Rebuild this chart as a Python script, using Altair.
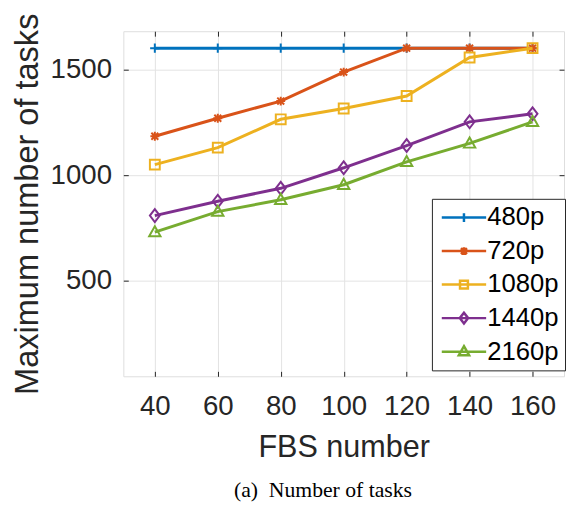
import altair as alt
import pandas as pd

fbs = [40, 60, 80, 100, 120, 140, 160]
series = ["480p", "720p", "1080p", "1440p", "2160p"]
v480 = [1600, 1600, 1600, 1600, 1600, 1600, 1600]
v720 = [1184, 1269, 1350, 1487, 1600, 1600, 1600]
v1080 = [1050, 1130, 1264, 1315, 1374, 1556, 1600]
v1440 = [809, 877, 938, 1035, 1140, 1252, 1290]
v2160 = [731, 828, 884, 955, 1063, 1150, 1252]
y_ticks = [500, 1000, 1500]
colors = ["#0072BD", "#D95319", "#EDB120", "#7E2F8E", "#77AC30"]

marker_paths = [
    "M0,-0.95V0.95M-0.95,0H0.95",
    "M0,-0.9V0.9M-0.9,0H0.9M-0.7,-0.7L0.7,0.7M-0.7,0.7L0.7,-0.7",
    "M-1,-1H1V1H-1Z",
    "M0,-1.3L1,0L0,1.3L-1,0Z",
    "M0,-1.2L1.15,0.85L-1.15,0.85Z",
]
legend_paths = [
    "M-4.5,0H4.5M0,-0.9V0.9",
    "M-4.5,0H4.5M0,-0.8V0.8M-0.6,-0.6L0.6,0.6M-0.6,0.6L0.6,-0.6",
    "M-4.5,0H4.5M-0.8,-0.8H0.8V0.8H-0.8Z",
    "M-4.5,0H4.5M0,-1.1L0.85,0L0,1.1L-0.85,0Z",
    "M-4.5,0H4.5M0,-1.1L1.05,0.75L-1.05,0.75Z",
]

rows = []
for name, vals in zip(series, [v480, v720, v1080, v1440, v2160]):
    for f, v in zip(fbs, vals):
        rows.append({"fbs": f, "tasks": v, "series": name})
df = pd.DataFrame(rows)

FONT = "Liberation Sans"
AX = "#262626"
GRID = "#e3e3e3"

xscale = alt.Scale(domain=[30, 170], nice=False, zero=False)
yscale = alt.Scale(domain=[50, 1680], nice=False, zero=False)
cscale = alt.Scale(domain=series, range=colors)

x_main = alt.X("fbs:Q", scale=xscale, axis=alt.Axis(
    values=fbs, orient="bottom", offset=-5, tickSize=5, tickColor=AX,
    labelPadding=17, domain=False, grid=True, gridColor=GRID,
    labelFont=FONT, labelFontSize=28, labelColor=AX, labelFlush=False, labelOverlap=False,
    title="FBS number", titleFont=FONT, titleFontSize=31, titleColor=AX,
    titleFontWeight="normal", titlePadding=12))
y_main = alt.Y("tasks:Q", scale=yscale, axis=alt.Axis(
    values=y_ticks, orient="left", offset=-5, tickSize=5, tickColor=AX, format="d",
    labelPadding=12, domain=False, grid=True, gridColor=GRID,
    labelFont=FONT, labelFontSize=28, labelColor=AX, labelOverlap=False,
    title="Maximum number of tasks", titleFont=FONT, titleFontSize=33, titleColor=AX,
    titleFontWeight="normal", titlePadding=6))

base = alt.Chart(df)

layers = []
first = True
for name, col, path in zip(series, colors, marker_paths):
    sub = base.transform_filter(alt.datum.series == name)
    if first:
        enc_x, enc_y = x_main, y_main
        first = False
    else:
        enc_x = alt.X("fbs:Q", scale=xscale, axis=None)
        enc_y = alt.Y("tasks:Q", scale=yscale, axis=None)
    layers.append(sub.mark_line(strokeWidth=3, color=col).encode(x=enc_x, y=enc_y))
    layers.append(
        sub.mark_point(shape=path, filled=False, size=100, strokeWidth=2, opacity=1, color=col)
        .encode(
            x=alt.X("fbs:Q", scale=xscale, axis=None),
            y=alt.Y("tasks:Q", scale=yscale, axis=None),
        )
    )

leg = alt.Legend(
    title=None, orient="none", legendX=313, legendY=170,
    symbolSize=100, symbolStrokeWidth=2.5, symbolOffset=13.5, labelOffset=10.5,
    labelFont=FONT, labelFontSize=26, labelColor="black", padding=6, rowPadding=8,
    strokeColor=AX, fillColor="white", symbolOpacity=1, symbolFillColor="transparent",
)

legend_layer = base.mark_point(filled=False, size=100, strokeWidth=2.5, opacity=0).encode(
    x=alt.X("fbs:Q", scale=xscale, axis=alt.Axis(
        orient="top", values=fbs, labels=False, offset=-5, tickSize=5, tickColor=AX,
        domain=False, grid=False, title=None)),
    y=alt.Y("tasks:Q", scale=yscale, axis=alt.Axis(
        orient="right", values=y_ticks, labels=False, offset=-5, tickSize=5, tickColor=AX,
        domain=False, grid=False, title=None)),
    color=alt.Color("series:N", scale=cscale, legend=leg),
    shape=alt.Shape("series:N", scale=alt.Scale(domain=series, range=legend_paths), legend=leg),
)

chart = alt.layer(*layers, legend_layer).resolve_axis(
    x="independent", y="independent"
).properties(
    width=447, height=350,
    autosize=alt.AutoSizeParams(type="none"),
    padding={"left": 117, "top": 20, "right": 2, "bottom": 128},
    title=alt.TitleParams("(a)\u00a0 Number of tasks", orient="bottom", font="Liberation Serif",
                          fontSize=22, fontWeight="normal", color="black", dx=-21, offset=18),
).configure_view(stroke=AX, strokeWidth=1).configure(background="white")

chart.save("out.html", embed_options={"renderer": "svg", "actions": False})
